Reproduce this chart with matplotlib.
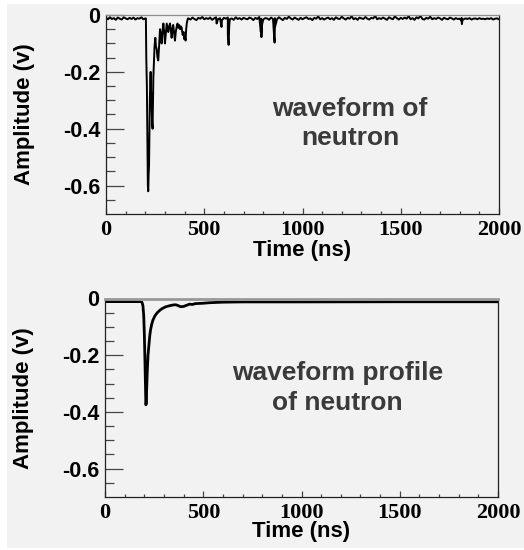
import numpy as np
import matplotlib
matplotlib.use('Agg')
import matplotlib.pyplot as plt
from matplotlib.patches import Rectangle

# ---- raw waveform of one neutron event (amplitudes in mV) ----
pre_t = np.arange(0, 201, 10)
pre_mv = [-10, -15, -8, -14, -11, -17, -9, -13, -16, -8, -12,
          -15, -10, -14, -9, -16, -11, -13, -8, -15, -12]

pulse_t = [203, 205, 208, 211, 213, 215, 217, 219, 221, 223, 225, 227, 229,
           231, 233, 235, 237, 239, 241, 244, 247, 251, 254, 258, 262, 266,
           270, 275, 279, 283, 287, 292, 296, 300, 304, 309, 313, 317, 321,
           326, 330, 334, 338, 342, 346, 351, 355, 360, 364, 368, 372, 377,
           381, 385, 390, 395, 398, 402, 405, 408, 412, 417]
pulse_mv = [-12, -150, -250, -450, -600, -620, -560, -530, -420, -300, -240,
            -200, -260, -300, -350, -380, -400, -300, -220, -160, -110, -80,
            -110, -120, -150, -160, -110, -50, -70, -100, -60, -30, -60, -100,
            -70, -30, -45, -60, -40, -30, -55, -80, -50, -35, -60, -90, -60,
            -40, -30, -45, -35, -50, -40, -45, -70, -60, -85, -75, -90, -50,
            -25, -12]

post_t = np.arange(420, 2001, 10)
post_mv = [-12, -16, -9, -14, -18, -10, -13, -7, -15, -11,
           -14, -9, -17, -12, -8, -15, -11, -18, -10, -13,
           -9, -15, -12, -17, -8, -14, -11, -16, -10, -13,
           -15, -9, -12, -18, -10, -14, -7, -13, -16, -11,
           -12, -17, -9, -14, -11, -15, -8, -13, -18, -10,
           -14, -6, -12, -16, -9, -13, -17, -10, -15, -11,
           -8, -14, -12, -18, -10, -13, -5, -15, -11, -16,
           -12, -9, -15, -11, -17, -8, -13, -14, -6, -12,
           -16, -10, -13, -4, -15, -11, -17, -9, -12, -14,
           -7, -13, -16, -10, -12, -3, -15, -11, -14, -9,
           -13, -17, -8, -12, -15, -5, -11, -16, -10, -14,
           -9, -13, -4, -15, -11, -17, -8, -12, -2, -14,
           -16, -10, -13, -6, -15, -11, -14, -9, -12, -17,
           -10, -13, -15, -9, -12, -16, -11, -14, -13, -10,
           -15, -12, -14, -11, -16, -13, -12, -15, -11, -14,
           -13, -15, -12, -14, -11, -16, -13, -12, -15]

# late small pulses
spike_t = [563, 588, 620, 624, 627, 788, 791, 794, 855, 858, 861,
           1808, 1811, 1814]
spike_mv = [-30, -42, -70, -105, -40, -60, -78, -35, -70, -97, -40,
            -20, -32, -18]

# ---- averaged waveform profile (mV) ----
prof_t = [0, 100, 180, 188, 193, 197, 200, 203, 206, 208, 210, 212, 215,
          219, 224, 228, 232, 238, 244, 255, 266, 280, 292, 310, 326, 345,
          360, 372, 385, 400, 415, 430, 445, 460, 494, 530, 562, 600, 700,
          1000, 1500, 2000]
prof_mv = [-11, -11, -11, -13, -25, -60, -120, -210, -310, -375, -370,
           -320, -260, -200, -160, -130, -110, -90, -76, -60, -50, -41, -35,
           -29, -26, -23, -22, -25, -29, -28, -24, -20, -21, -18, -17, -15,
           -14, -13, -12, -12, -11.5, -11.5]

yticks = [0, -0.2, -0.4, -0.6]
ylabels = ['0', '-0.2', '-0.4', '-0.6']
xticks = [0, 500, 1000, 1500, 2000]

BG = '#f2f2f2'
SANS = 'Liberation Sans'
SERIF = 'Liberation Serif'


def style_axes(ax, top_lw, top_col, xlab_y):
    ax.set_facecolor(BG)
    ax.set_xlim(0, 2000)
    ax.set_ylim(-0.7, 0)
    ax.set_yticks(yticks)
    ax.set_yticklabels(ylabels, fontfamily=SANS, fontweight='bold',
                       fontsize=15.5)
    ax.set_yticks(np.arange(-0.65, 0, 0.05), minor=True)
    ax.set_xticks(xticks)
    ax.set_xticklabels([str(x) for x in xticks], fontfamily=SERIF,
                       fontweight='bold', fontsize=16)
    ax.set_xticks(np.arange(0, 2001, 100), minor=True)
    ax.tick_params(axis='y', which='major', direction='in', length=13,
                   width=0.9, color='#444444', pad=4)
    ax.tick_params(axis='y', which='minor', direction='in', length=6.5,
                   width=0.9, color='#444444')
    ax.tick_params(axis='x', which='major', direction='in', length=4,
                   width=0.9, color='#444444', pad=4)
    ax.tick_params(axis='x', which='minor', direction='in', length=2.5,
                   width=0.9, color='#444444')
    for s in ['left', 'bottom', 'right']:
        ax.spines[s].set_color('#222222')
        ax.spines[s].set_linewidth(0.9)
    ax.spines['top'].set_color(top_col)
    ax.spines['top'].set_linewidth(top_lw)
    ax.set_xlabel('Time (ns)', fontfamily=SANS, fontweight='bold',
                  fontsize=16)
    ax.set_ylabel('Amplitude (v)', fontfamily=SANS, fontweight='bold',
                  fontsize=16)
    ax.yaxis.set_label_coords(-0.18, 0.5)
    ax.xaxis.set_label_coords(0.5, xlab_y)


fig = plt.figure(figsize=(5.24, 5.5), dpi=100, facecolor='white')
fig.patches.append(Rectangle((7 / 524, 2 / 550), 1 - 7 / 524, 544 / 550,
                             transform=fig.transFigure, facecolor=BG,
                             edgecolor='none', zorder=-1))

# top panel: raw waveform
ax1 = fig.add_axes([106 / 524, 1 - 214 / 550, 393 / 524, 199 / 550])
t_raw = np.concatenate([pre_t, pulse_t, post_t, spike_t])
v_raw = np.concatenate([pre_mv, pulse_mv, post_mv, spike_mv]) / 1000.0
order = np.argsort(t_raw, kind='stable')
ax1.plot(t_raw[order], v_raw[order], color='black', lw=1.4)
style_axes(ax1, 0.9, '#8c8c8c', -0.13)
ax1.text(0.621, 0.455, 'waveform of\nneutron', transform=ax1.transAxes,
         ha='center', va='center', ma='center', fontfamily=SANS,
         fontweight='bold', fontsize=19, color='#3a3a3a', linespacing=1.3)

# bottom panel: averaged profile
ax2 = fig.add_axes([105 / 524, 1 - 497 / 550, 393 / 524, 198.5 / 550])
ax2.plot(prof_t, np.array(prof_mv) / 1000.0, color='black', lw=2.0)
style_axes(ax2, 2.0, '#999999', -0.12)
ax2.text(0.592, 0.55, 'waveform profile\nof neutron', transform=ax2.transAxes,
         ha='center', va='center', ma='center', fontfamily=SANS,
         fontweight='bold', fontsize=19, color='#3a3a3a', linespacing=1.3)

fig.savefig('out.png', dpi=100, facecolor=fig.get_facecolor())
